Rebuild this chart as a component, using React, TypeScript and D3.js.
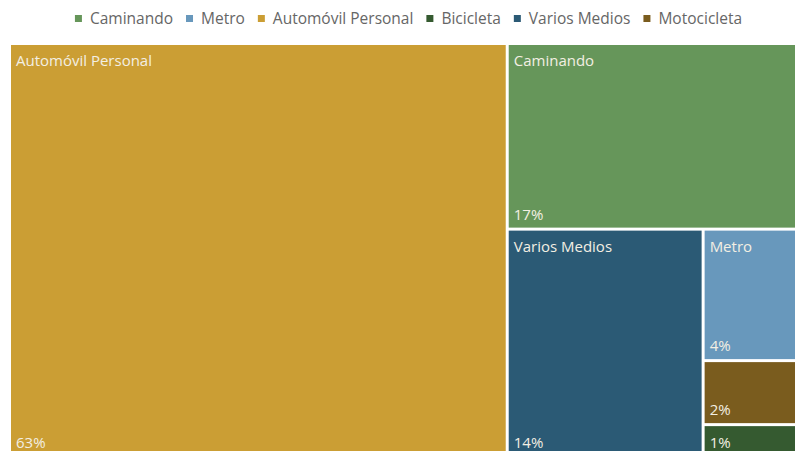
import React, { useEffect, useRef } from "react";
import * as d3 from "d3";

const categories = ["Automóvil Personal", "Caminando", "Varios Medios", "Metro", "Motocicleta", "Bicicleta"];
const values = [63.1, 16.5, 13.7, 3.8, 1.85, 0.95];
const colors = ["#CB9E34", "#66965A", "#2B5A75", "#6898BC", "#7A5C1E", "#355A30"];
const legendOrder = ["Caminando", "Metro", "Automóvil Personal", "Bicicleta", "Varios Medios", "Motocicleta"];

const W = 795;
const H = 451;
const FONT = "'Open Sans', Lato, sans-serif";

// greedy strip tiling: each child takes a strip along the longer side of the remaining box
function stripTile(parent: any, x0: number, y0: number, x1: number, y1: number) {
  const nodes = parent.children || [];
  let remaining = parent.value || 0;
  let cx0 = x0, cy0 = y0;
  nodes.forEach((n: any, i: number) => {
    const w = x1 - cx0;
    const h = y1 - cy0;
    const f = remaining > 0 ? n.value / remaining : 0;
    if (i === nodes.length - 1) {
      n.x0 = cx0; n.y0 = cy0; n.x1 = x1; n.y1 = y1;
    } else if (w >= h) {
      n.x0 = cx0; n.y0 = cy0; n.x1 = cx0 + w * f; n.y1 = y1;
      cx0 = n.x1;
    } else {
      n.x0 = cx0; n.y0 = cy0; n.x1 = x1; n.y1 = cy0 + h * f;
      cy0 = n.y1;
    }
    remaining -= n.value;
  });
}

export default function App() {
  const ref = useRef<SVGSVGElement | null>(null);

  useEffect(() => {
    const svg = d3.select(ref.current);
    svg.selectAll("*").remove();

    const colorOf = d3.scaleOrdinal<string, string>().domain(categories).range(colors);

    const data = { name: "root", children: categories.map((c, i) => ({ name: c, value: values[i] })) };
    const root = d3
      .hierarchy<any>(data)
      .sum((d: any) => d.value || 0)
      .sort((a, b) => (b.value || 0) - (a.value || 0));

    d3.treemap<any>()
      .tile(stripTile as any)
      .size([786, 412])
      .paddingInner(2)(root);

    const g = svg.append("g").attr("transform", "translate(10,44)");
    const total = d3.sum(values);

    const cell = g
      .selectAll("g.cell")
      .data(root.leaves() as any[])
      .join("g")
      .attr("class", "cell")
      .attr("transform", (d: any) => `translate(${d.x0},${d.y0})`);

    cell
      .append("rect")
      .attr("x", 1)
      .attr("y", 1)
      .attr("width", (d: any) => Math.max(0, d.x1 - d.x0 - 1))
      .attr("height", (d: any) => Math.max(0, d.y1 - d.y0 - 1))
      .attr("fill", (d: any) => colorOf(d.data.name));

    cell
      .filter((d: any) => d.y1 - d.y0 > 80)
      .append("text")
      .attr("x", 6)
      .attr("y", 22)
      .attr("fill", "#f3efe3")
      .attr("font-family", FONT)
      .attr("font-size", 15)
      .text((d: any) => d.data.name);

    cell
      .append("text")
      .attr("x", 6)
      .attr("y", (d: any) => d.y1 - d.y0 - 8)
      .attr("fill", "#f3efe3")
      .attr("font-family", FONT)
      .attr("font-size", 15)
      .text((d: any) => `${Math.round((d.value / total) * 100)}%`);

    // legend
    const lg = svg.append("g").attr("transform", "translate(0,24)");
    const items = lg
      .selectAll("g.li")
      .data(legendOrder)
      .join("g")
      .attr("class", "li");
    items
      .append("rect")
      .attr("width", 7)
      .attr("height", 7)
      .attr("y", -9)
      .attr("fill", (d) => colorOf(d));
    const texts = items
      .append("text")
      .attr("x", 15)
      .attr("fill", "#666")
      .attr("font-family", FONT)
      .attr("font-size", 15.5)
      .text((d) => d);
    const widths: number[] = [];
    texts.each(function () {
      widths.push((this as SVGTextElement).getComputedTextLength());
    });
    const gap = 13;
    const itemW = widths.map((w) => 15 + w);
    const totalW = d3.sum(itemW) + gap * (itemW.length - 1);
    let x = (W - totalW) / 2 + 11;
    items.attr("transform", (_d, i) => {
      const t = `translate(${x},0)`;
      x += itemW[i] + gap;
      return t;
    });
  }, []);

  return (
    <div style={{ position: "fixed", left: 0, top: 0, width: W, height: H, overflow: "hidden", background: "#fff" }}>
      <svg ref={ref} width={W} height={H} style={{ display: "block" }} />
    </div>
  );
}
